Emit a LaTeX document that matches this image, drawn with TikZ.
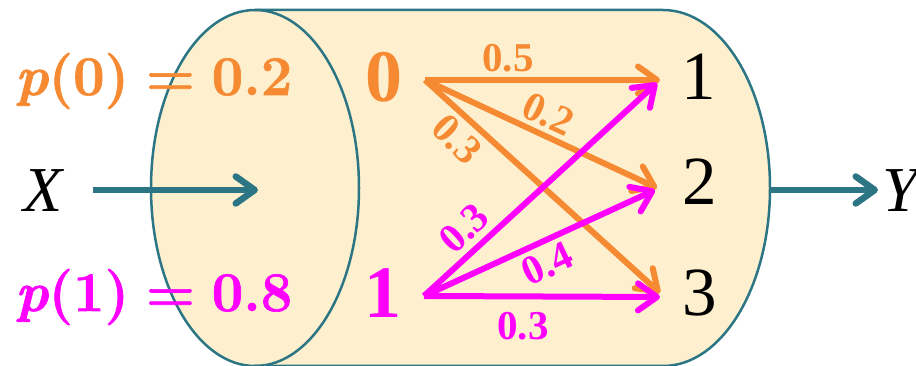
\documentclass[tikz,border=0pt]{standalone}
\usepackage{fontspec}
\setmainfont{Liberation Serif}
\newfontfamily\lmfont[BoldFeatures={FakeBold=1.2},BoldItalicFeatures={FakeBold=1.2}]{Latin Modern Roman}
\usetikzlibrary{arrows.meta}
\definecolor{tealc}{HTML}{2B7585}
\definecolor{cream}{HTML}{FEF0CE}
\definecolor{orng}{HTML}{F68A33}
\definecolor{mag}{HTML}{FF00FF}
\tikzset{
  tipbarb/.style={-{Straight Barb[length=19pt,width=27pt,round]}},
  chan/.style={line width=6pt, tipbarb},
  flow/.style={tealc, line width=6.5pt, tipbarb},
  plab/.style={font=\fontsize{56}{56}\selectfont\lmfont\bfseries, inner sep=0, anchor=base west},
  srclab/.style={font=\fontsize{74}{74}\selectfont\bfseries, inner sep=0, anchor=base},
  outlab/.style={font=\fontsize{69}{69}\selectfont, inner sep=0, anchor=base},
  varlab/.style={font=\fontsize{64}{64}\selectfont\itshape, inner sep=0, anchor=base},
  prob/.style={font=\fontsize{41}{41}\selectfont\bfseries, inner sep=0},
  rim/.style={tealc, line width=2.5pt}
}
\begin{document}
\begin{tikzpicture}[x=1pt,y=1pt]
\useasboundingbox (0,0) rectangle (916,366);
% cylinder body
\fill[cream] (255,356) -- (663,356)
  arc[start angle=90,end angle=-90,x radius=107pt,y radius=178pt]
  -- (255,0) arc[start angle=-90,end angle=-270,x radius=104pt,y radius=178pt] -- cycle;
\draw[rim] (255,356) -- (663,356)
  arc[start angle=90,end angle=-90,x radius=107pt,y radius=178pt] -- (255,0);
\draw[rim] (255,178) ellipse[x radius=104pt, y radius=178pt];

% input / output variables
\node[varlab] (X) at (43,154) {X};
\node[varlab] (Y) at (900,154) {Y};
\coordinate (xs) at (93,176);
\coordinate (xe) at (258,176);
\coordinate (ys) at (770,176);
\coordinate (ye) at (878,176);
\draw[flow] (xs) -- (xe);
\draw[flow] (ys) -- (ye);

% priors
\node[plab, text=orng] (p0) at (15,271) {\textit{p}(0)\hspace{0.3em}=\hspace{0.3em}0.2};
\node[plab, text=mag] (p1) at (15,55) {\textit{p}(1)\hspace{0.3em}=\hspace{0.3em}0.8};

% source symbols
\node[srclab, text=orng] (in0) at (384,264) {0};
\node[srclab, text=mag] (in1) at (383,48) {1};
\coordinate (s0) at (425,286);
\coordinate (s1) at (424,70);

% output symbols
\node[outlab] (out1) at (699,266) {1};
\node[outlab] (out2) at (700,161) {2};
\node[outlab] (out3) at (700,50) {3};
\coordinate (a01) at (660,286);
\coordinate (a02) at (657,178);
\coordinate (a03) at (660,73);
\coordinate (a11) at (657,283);
\coordinate (a12) at (655,176);
\coordinate (a13) at (660,69);

% transitions from 0
\draw[chan, orng] (s0) -- (a01);
\draw[chan, orng] (s0) -- (a02);
\draw[chan, orng] (s0) -- (a03);
% transitions from 1
\draw[chan, mag] (s1) -- (a11);
\draw[chan, mag] (s1) -- (a12);
\draw[chan, mag] (s1) -- (a13);

% probabilities
\node[prob, text=orng] (q01) at (508,308) {0.5};
\node[prob, text=orng, rotate=-25] (q02) at (548,252) {0.2};
\node[prob, text=orng, rotate=-45] (q03) at (457,227) {0.3};
\node[prob, text=mag, rotate=43] (q11) at (464,138) {0.3};
\node[prob, text=mag, rotate=25] (q12) at (547,102) {0.4};
\node[prob, text=mag] (q13) at (523,40) {0.3};
\end{tikzpicture}
\end{document}
